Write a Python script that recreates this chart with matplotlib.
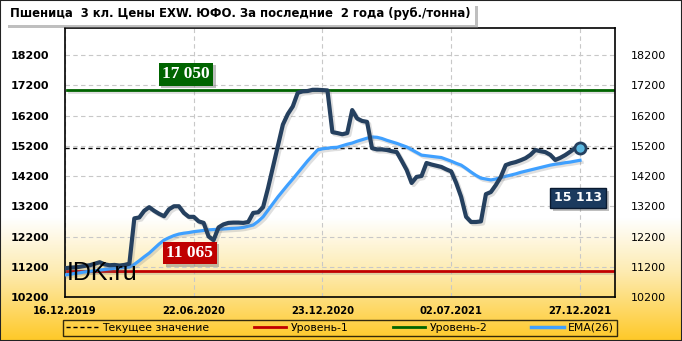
import numpy as np
import matplotlib.pyplot as plt
import matplotlib.patheffects as pe
from matplotlib.colors import LinearSegmentedColormap
from matplotlib.lines import Line2D
from matplotlib.patches import Rectangle

# weekly prices (rub/t)
price = [11150, 11170, 11180, 11200, 11230, 11250, 11300, 11350, 11280, 11250,
         11260, 11240, 11260, 11300, 12800, 12830, 13050, 13170, 13050, 12950,
         12870, 13100, 13200, 13200, 12980, 12850, 12850, 12700, 12650, 12200,
         12080, 12500, 12600, 12650, 12660, 12660, 12650, 12680, 12980, 13000,
         13170, 13800, 14500, 15200, 15900, 16250, 16500, 16950, 17000, 17010,
         17050, 17050, 17040, 17030, 15650, 15620, 15580, 15620, 16380, 16100,
         16020, 15990, 15120, 15080, 15080, 15060, 15020, 14990, 14700, 14400,
         13970, 14170, 14200, 14630, 14580, 14540, 14500, 14420, 14350, 13970,
         13510, 12850, 12680, 12680, 12700, 13600, 13670, 13900, 14170, 14560,
         14620, 14660, 14720, 14790, 14900, 15060, 15020, 14990, 14900, 14730,
         14800, 14890, 15000, 15120, 15113]

ema = [10930, 10950, 10980, 11000, 11030, 11050, 11070, 11090, 11110, 11130,
       11150, 11160, 11180, 11190, 11280, 11400, 11530, 11650, 11800, 11950,
       12080, 12160, 12230, 12280, 12310, 12330, 12360, 12380, 12400, 12420,
       12430, 12440, 12450, 12460, 12470, 12480, 12500, 12540, 12580, 12700,
       12850, 13070, 13290, 13510, 13710, 13910, 14100, 14300, 14500, 14700,
       14880, 15060, 15100, 15120, 15140, 15150, 15200, 15250, 15290, 15350,
       15400, 15450, 15490, 15480, 15440, 15380, 15330, 15280, 15220, 15160,
       15070, 14980, 14890, 14870, 14850, 14830, 14810, 14750, 14690, 14620,
       14560, 14450, 14330, 14220, 14130, 14100, 14070, 14100, 14150, 14190,
       14230, 14270, 14320, 14360, 14400, 14440, 14480, 14520, 14560, 14590,
       14610, 14640, 14660, 14690, 14720]

date_pos = [0, 26, 52, 78, 104]
date_labels = ["16.12.2019", "22.06.2020", "23.12.2020", "02.07.2021", "27.12.2021"]
y_ticks = [10200, 11200, 12200, 13200, 14200, 15200, 16200, 17200, 18200]
level_1 = 11065
level_2 = 17050
current = 15113

navy = "#25405F"
blue = "#3FA0FF"
red = "#C00000"
green = "#006400"

fig = plt.figure(figsize=(6.82, 3.41), dpi=100)

# background: white on top, gold at the bottom
bg = fig.add_axes([0, 0, 1, 1], zorder=-10)
cmap = LinearSegmentedColormap.from_list(
    "bg", [(0, "#FFC928"), (0.2, "#FDEBB0"), (0.36, "#FFFFFF"), (1, "#FFFFFF")])
bg.imshow(np.linspace(0, 1, 256).reshape(-1, 1), aspect="auto", cmap=cmap,
          origin="lower", extent=[0, 1, 0, 1])
bg.axis("off")
fig.patches.append(Rectangle((0, 0), 1, 1, transform=fig.transFigure,
                             fill=False, ec="#222222", lw=1.5))

ax = fig.add_axes([65 / 682, 44 / 341, 550 / 682, 269 / 341])
ax.patch.set_alpha(0)
ax.set_xlim(0, 111.07)
ax.set_ylim(10200, 19093)

shadow = [pe.SimpleLineShadow(offset=(1.5, -1.5), shadow_color="gray", alpha=0.25), pe.Normal()]

ax.axhline(level_2, xmin=0.004, xmax=0.996, color=green, lw=2, path_effects=shadow)
ax.axhline(level_1, xmin=0.004, xmax=0.996, color=red, lw=2, path_effects=shadow)
ax.axhline(current, color="black", lw=1, ls=(0, (3, 2.5)))

x = np.arange(len(price))
ax.plot(x, ema, color=blue, lw=2.3, path_effects=shadow, zorder=3)
ax.plot(x, price, color=navy, lw=3.0, solid_joinstyle="round", path_effects=shadow, zorder=4)
ax.plot(x[-1], price[-1], "o", ms=8, mfc="#5BB8E0", mec=navy, mew=2, zorder=5)

ax.set_yticks(y_ticks)
ax.set_xticks(date_pos)
ax.set_xticklabels(date_labels, fontsize=7.2, fontweight="bold")
for lab in ax.get_yticklabels():
    lab.set_fontweight("bold")
ax.tick_params(axis="y", labelright=True, left=False, right=False, labelsize=8, pad=8)
ax.tick_params(axis="x", bottom=False, pad=3)
ax.grid(color="#c8c8c8", ls=(0, (4, 3)), lw=0.8)
for s in ax.spines.values():
    s.set_linewidth(1.2)

def fmt(v):
    return f"{v:,}".replace(",", " ")

# value tags
box_shadow = [pe.withSimplePatchShadow(offset=(2, -2), shadow_rgbFace="gray", alpha=0.5)]
t1 = ax.text(24.4, level_2 + 520, fmt(level_2), color="white", fontsize=12.5,
             fontweight="bold", family="Liberation Serif", ha="center", va="center",
             bbox=dict(boxstyle="square,pad=0.2", fc=green, ec="none"), zorder=6)
t2 = ax.text(25.2, level_1 + 590, fmt(level_1), color="white", fontsize=12.5,
             fontweight="bold", family="Liberation Serif", ha="center", va="center",
             bbox=dict(boxstyle="square,pad=0.2", fc=red, ec="none"), zorder=6)
t3 = ax.text(103.6, 13473, fmt(current), color="white", fontsize=9,
             fontweight="bold", ha="center", va="center",
             bbox=dict(boxstyle="square,pad=0.3", fc="#1B3A5E", ec="#0A1A30", lw=1), zorder=6)
for t in (t1, t2, t3):
    t.get_bbox_patch().set_path_effects(box_shadow)

ax.text(0.004, 0.063, "IDK.ru", transform=ax.transAxes, fontsize=18,
        family="Liberation Sans", va="baseline", ha="left", color="black", zorder=5)

title = fig.text(10 / 682, 1 - 14 / 341,
                 "Пшеница  3 кл. Цены EXW. ЮФО. За последние  2 года (руб./тонна)",
                 fontsize=8.4, fontweight="bold", va="center", ha="left",
                 bbox=dict(boxstyle="square,pad=0.4", fc="white", ec="none"))
title.get_bbox_patch().set_path_effects(box_shadow)

handles = [Line2D([], [], color="black", lw=1, ls=(0, (3, 2))),
           Line2D([], [], color=red, lw=2),
           Line2D([], [], color=green, lw=2),
           Line2D([], [], color=blue, lw=2.5)]
labels = ["Текущее значение", "Уровень-1", "Уровень-2", "EMA(26)"]
leg = fig.legend(handles, labels, loc="center", ncol=4,
                 bbox_to_anchor=(63 / 682, 4 / 341, 554 / 682, 18 / 341), mode="expand",
                 frameon=True, fancybox=False, edgecolor="black", facecolor="none",
                 fontsize=7.8, handlelength=3.0, handletextpad=0.4, borderpad=0.25,
                 borderaxespad=0)
leg.get_frame().set_linewidth(1)

fig.savefig("out.png", dpi=100)
